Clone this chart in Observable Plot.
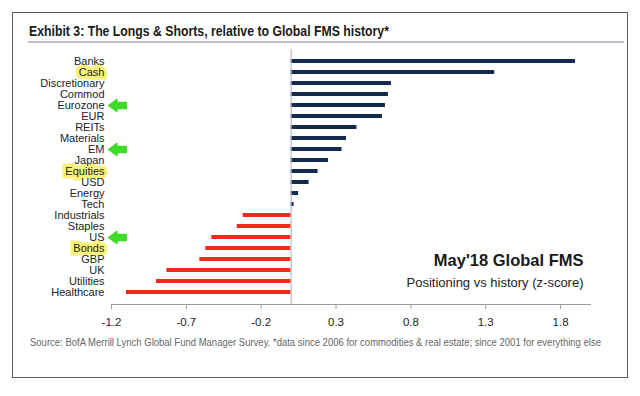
<!DOCTYPE html>
<html>
<head>
<meta charset="utf-8">
<script src="https://cdn.jsdelivr.net/npm/d3@7"></script>
<script src="https://cdn.jsdelivr.net/npm/@observablehq/plot@0.6"></script>
<style>
  html, body { margin: 0; padding: 0; background: #fff; }
  body { width: 640px; height: 396px; position: relative; overflow: hidden;
         font-family: "Liberation Sans", Arial, sans-serif; }
  #frame { position: absolute; left: 12px; top: 12px; width: 614px; height: 364px; border: 1px solid #5a5a5a; }
  #title { position: absolute; left: 29px; top: 22px; font-size: 15px; font-weight: bold; color: #1a1a1a;
           white-space: nowrap; transform: scaleX(0.818); transform-origin: left center; }
  #rule { position: absolute; left: 28px; top: 41px; width: 596px; height: 2px; background: #b9c0d0; }
  #chart { position: absolute; left: 0; top: 44px; }
  #source { position: absolute; left: 30px; top: 336px; font-size: 10.5px; color: #666;
            white-space: nowrap; transform: scaleX(0.905); transform-origin: left center; }
</style>
</head>
<body>
<div id="frame"></div>
<div id="title"></div>
<div id="rule"></div>
<div id="chart"></div>
<div id="source"></div>
<script>
const titleText = "Exhibit 3: The Longs & Shorts, relative to Global FMS history*";
const sourceText = "Source: BofA Merrill Lynch Global Fund Manager Survey. *data since 2006 for commodities & real estate; since 2001  for everything else";
const annoTitle = ["May'18 Global FMS"];
const annoSub = ["Positioning vs history (z-score)"];

const categories = ["Banks","Cash","Discretionary","Commod","Eurozone","EUR","REITs","Materials","EM","Japan","Equities","USD","Energy","Tech","Industrials","Staples","US","Bonds","GBP","UK","Utilities","Healthcare"];
const values = [1.90, 1.36, 0.67, 0.65, 0.63, 0.61, 0.44, 0.37, 0.34, 0.25, 0.18, 0.12, 0.05, 0.02, -0.32, -0.36, -0.53, -0.57, -0.61, -0.83, -0.90, -1.10];
const highlighted = ["Cash", "Equities", "Bonds"];
const arrowed = ["Eurozone", "EM", "US"];
const tickValues = [-1.2, -0.7, -0.2, 0.3, 0.8, 1.3, 1.8];
const xDomain = [-1.2, 2.0];

document.getElementById("title").textContent = titleText;
document.getElementById("source").textContent = sourceText;

const data = categories.map((name, i) => ({name, value: values[i]}));

const arrowShape = {
  draw(ctx, l, r) {
    const h = 8.5;
    ctx.moveTo(-3.2, 0);
    ctx.lineTo(-3.2, -l + h);
    ctx.lineTo(-6.2, -l + h);
    ctx.lineTo(0, -l);
    ctx.lineTo(6.2, -l + h);
    ctx.lineTo(3.2, -l + h);
    ctx.lineTo(3.2, 0);
    ctx.closePath();
  }
};

const font = "'Liberation Sans', Arial, sans-serif";

const chart = Plot.plot({
  width: 640,
  height: 290,
  marginLeft: 111,
  marginRight: 50,
  marginTop: 5,
  marginBottom: 30,
  style: {fontFamily: font, fontSize: "11px", color: "#222", background: "transparent"},
  x: {domain: xDomain, axis: null},
  y: {domain: categories, paddingInner: 0.6, paddingOuter: 0.3, axis: null},
  marks: [
    Plot.text(highlighted, {y: d => d, frameAnchor: "left", textAnchor: "end", dx: -7,
      fill: "#f8f27a", stroke: "#f8f27a", strokeWidth: 7, strokeLinejoin: "miter", fontSize: 11}),
    Plot.text(categories, {y: d => d, frameAnchor: "left", textAnchor: "end", dx: -7,
      fill: "#222", fontSize: 11}),
    Plot.vector(arrowed, {y: d => d, frameAnchor: "left", dx: -3, rotate: -90, length: 18,
      anchor: "end", shape: arrowShape, fill: "#3ddc27", stroke: "#3ddc27", strokeWidth: 1.2, strokeLinejoin: "round"}),
    Plot.barX(data, {x: "value", y: "name", fill: d => d.value >= 0 ? "#132a4e" : "#ee2a1d"}),
    Plot.ruleX([0], {stroke: "#b5bccb", strokeWidth: 1.2}),
    Plot.frame({anchor: "bottom", stroke: "#9a9a9a"}),
    Plot.axisX({ticks: tickValues, tickFormat: d => d.toFixed(1), tickSize: 5, tickPadding: 8,
      stroke: "#9a9a9a", fill: "#222", fontSize: 11.5, label: null}),
    Plot.text(annoTitle, {frameAnchor: "bottom-right", textAnchor: "end", dx: -7, dy: -39,
      fontSize: 16.5, fontWeight: "bold", fill: "#1a1a1a"}),
    Plot.text(annoSub, {frameAnchor: "bottom-right", textAnchor: "end", dx: -7, dy: -18,
      fontSize: 13, fill: "#222"})
  ]
});
document.getElementById("chart").appendChild(chart);
</script>
</body>
</html>
